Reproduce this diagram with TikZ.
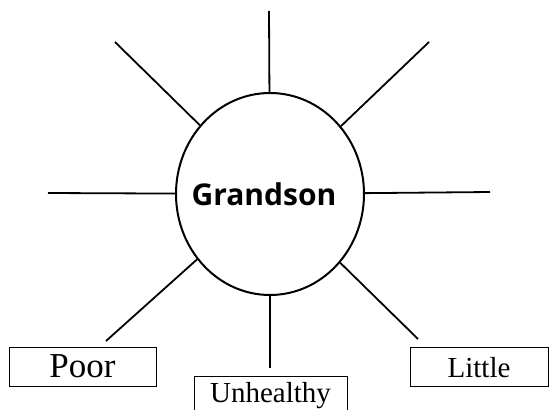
\documentclass[tikz,border=0pt]{standalone}
\usepackage{fontspec}
\setmainfont{Liberation Serif}
\newfontfamily\headfont{Open Sans}
\usetikzlibrary{shapes.geometric}

\begin{document}
\begin{tikzpicture}[
    x=1pt, y=-1pt,
    hub/.style={
        draw,
        ellipse,
        line width=2pt,
        minimum width=188pt,
        minimum height=202pt,
        inner sep=0pt,
        font=\headfont\bfseries\fontsize{30}{30}\selectfont
    },
    tag/.style={
        draw,
        line width=0.8pt,
        inner sep=0pt,
        text height=30pt,
        text depth=9pt,
        anchor=north
    },
    spoke/.style={line width=1.8pt}
]
\useasboundingbox (0,0) rectangle (555,410);

\node[hub] (grandson) at (270,194) {\hspace*{-12pt}Grandson};

\node[tag, minimum width=147pt, font=\fontsize{35}{35}\selectfont] (poor) at (82.5,347) {Poor};
\node[tag, minimum width=153pt, text height=26pt, text depth=18pt, font=\fontsize{29}{29}\selectfont] (unhealthy) at (270.5,376) {Unhealthy};
\node[tag, minimum width=138pt, font=\fontsize{29}{29}\selectfont] (little) at (479,347) {Little};

% free ends of the rays
\coordinate (n) at (269,11);
\coordinate (nw) at (115,42);
\coordinate (ne) at (429,42);
\coordinate (w) at (48,193);
\coordinate (e) at (490,192);
\coordinate (sw) at (106,341);
\coordinate (s) at (270,368);
\coordinate (se) at (418,339);

\foreach \c in {n,nw,ne,w,e,sw,s,se}
    \draw[spoke] (grandson) -- (\c);

\end{tikzpicture}
\end{document}
